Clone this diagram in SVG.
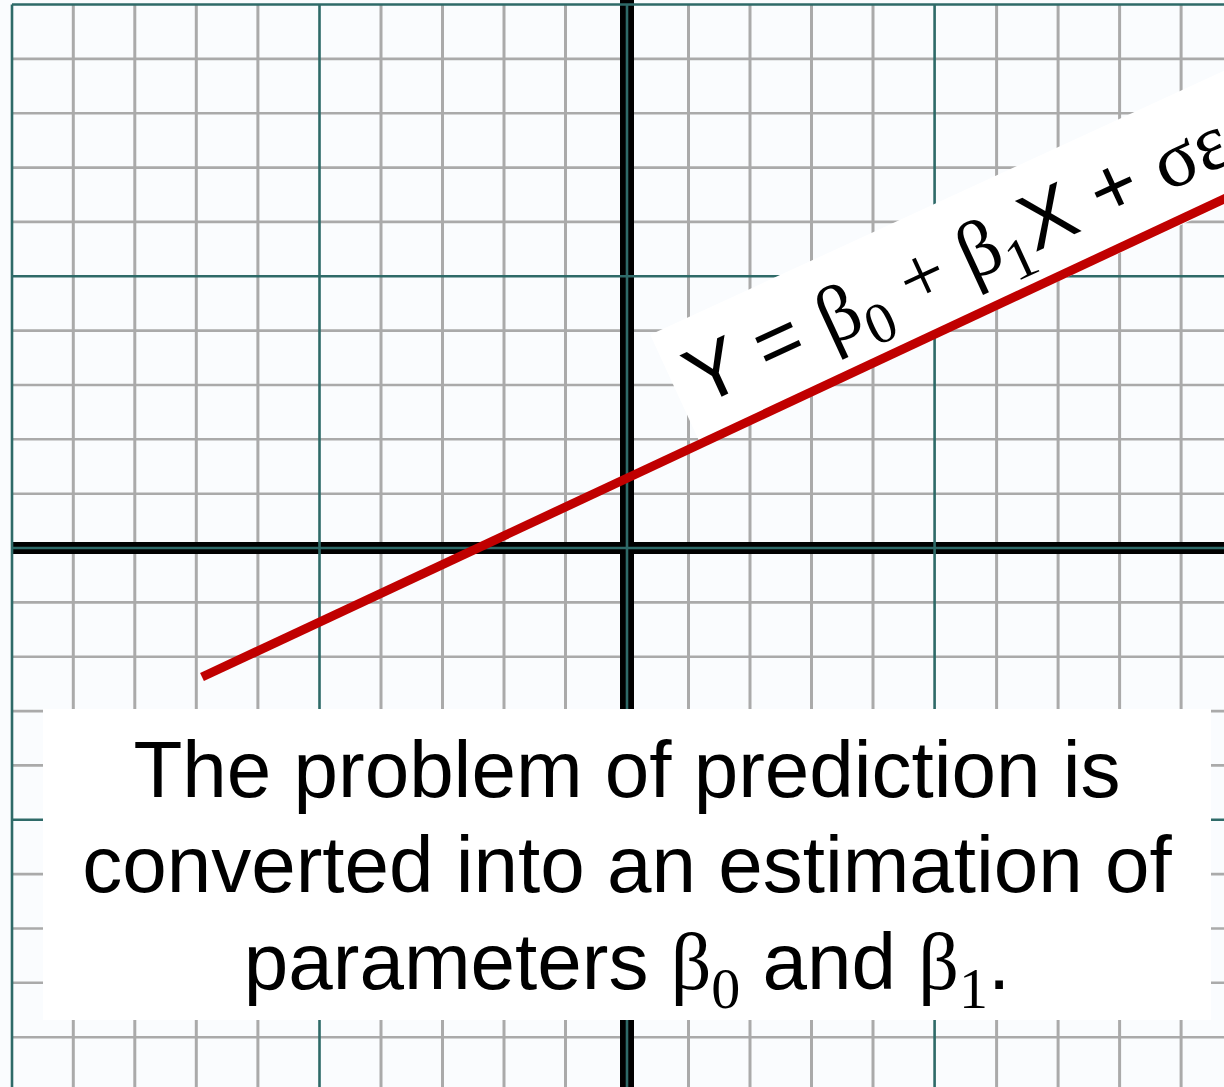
<svg xmlns="http://www.w3.org/2000/svg" width="1224" height="1087" viewBox="0 0 1224 1087">
<style>
.minor{stroke:#aaaaaa;stroke-width:3;fill:none}
.minorh{stroke:#aaaaaa;stroke-width:2.6;fill:none}
.major{stroke:#2e6a68;stroke-width:2.6;fill:none}
.axis{stroke:#000;fill:none}
.sans{font-family:"Liberation Sans",Arial,sans-serif;font-size:80px;fill:#000}
.serif{font-family:"Liberation Serif","Times New Roman",serif}
.sub{font-size:58px}
</style>
<rect x="0" y="0" width="1224" height="1087" fill="#fafcfe"/>
<g id="grid-minor">
<path class="minor" d="M73.3 4.5V1087M134.8 4.5V1087M196.3 4.5V1087M257.9 4.5V1087M381 4.5V1087M442.5 4.5V1087M504 4.5V1087M565.5 4.5V1087M688.5 4.5V1087M750 4.5V1087M811.5 4.5V1087M873 4.5V1087M996.6 4.5V1087M1058.1 4.5V1087M1119.6 4.5V1087M1181.1 4.5V1087"/>
<path class="minorh" d="M12 58.9H1224M12 113.2H1224M12 167.6H1224M12 221.9H1224M12 330.6H1224M12 385H1224M12 439.3H1224M12 493.7H1224M12 602.4H1224M12 656.7H1224M12 711.1H1224M12 765.4H1224M12 874.1H1224M12 928.5H1224M12 982.8H1224M12 1037.2H1224"/>
</g>
<g id="axes">
<path class="axis" stroke-width="14" d="M627 0V1087"/>
<path class="axis" stroke-width="12" d="M12 548H1224"/>
</g>
<g id="grid-major">
<path class="major" d="M12 4.5V1087M319.5 4.5V1087M627 4.5V1087M934.6 4.5V1087"/>
<path class="major" d="M12 4.5H1224M12 276.3H1224M12 548H1224M12 819.8H1224"/>
</g>
<g id="equation-label" transform="translate(700.7,406.2) rotate(-24.7)">
<rect x="-16" y="-86" width="800" height="122" fill="#ffffff"/>
<text class="sans" x="0" y="0">Y = <tspan class="serif">β</tspan><tspan class="serif sub" dy="19">0</tspan><tspan class="serif" dy="-19"> + β</tspan><tspan class="serif sub" dy="19">1</tspan><tspan dy="-19">X + </tspan><tspan class="serif">σε</tspan></text>
</g>
<g id="regression-line">
<line x1="202" y1="677" x2="1240" y2="191.5" stroke="#c00000" stroke-width="9"/>
</g>
<g id="caption">
<rect x="43" y="709" width="1168" height="311" fill="#ffffff"/>
<text class="sans" x="627" y="797" text-anchor="middle">The problem of prediction is</text>
<text class="sans" x="627" y="892" text-anchor="middle">converted into an estimation of</text>
<text class="sans" x="627" y="989" text-anchor="middle">parameters <tspan class="serif">β</tspan><tspan class="serif sub" dy="19">0</tspan><tspan dy="-19"> and </tspan><tspan class="serif">β</tspan><tspan class="serif sub" dy="19">1</tspan><tspan dy="-19">.</tspan></text>
</g>
</svg>
